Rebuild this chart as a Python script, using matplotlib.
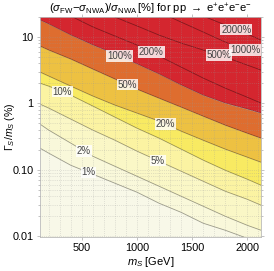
import numpy as np
import matplotlib
matplotlib.use("Agg")
import matplotlib.pyplot as plt

plt.rcParams['font.family'] = ['Liberation Sans', 'DejaVu Sans']
plt.rcParams['mathtext.fontset'] = 'custom'
plt.rcParams['mathtext.rm'] = 'Liberation Sans'
plt.rcParams['mathtext.it'] = 'Liberation Sans:italic'
plt.rcParams['mathtext.bf'] = 'Liberation Sans:bold'

m_s = [120, 200, 400, 600, 800, 1000, 1200, 1400, 1600, 1800, 2000, 2125]

# Gamma_S/m_S (%) of each contour line at the m_s points
line_1 = [0.212, 0.178, 0.117, 0.0859, 0.0628, 0.0460, 0.0314, 0.0229, 0.0157, 0.0123, 0.0093, 0.0076]
line_2 = [0.488, 0.396, 0.252, 0.160, 0.113, 0.0800, 0.0566, 0.0400, 0.0283, 0.0200, 0.0146, 0.0123]
line_5 = [0.976, 0.850, 0.580, 0.396, 0.279, 0.191, 0.135, 0.0953, 0.0673, 0.0476, 0.0360, 0.0293]
line_10 = [2.02, 1.82, 1.33, 0.911, 0.621, 0.424, 0.300, 0.205, 0.140, 0.0986, 0.0722, 0.0586]
line_20 = [2.97, 2.58, 1.82, 1.29, 0.943, 0.715, 0.541, 0.382, 0.279, 0.205, 0.155, 0.130]
line_50 = [7.32, 6.37, 4.66, 3.29, 2.33, 1.64, 1.20, 0.880, 0.643, 0.471, 0.356, 0.300]
line_100 = [18.0, 15.7, 10.7, 7.58, 5.54, 3.92, 2.77, 1.89, 1.33, 1.01, 0.821, 0.715]
line_200 = [33.7, 29.4, 20.7, 14.2, 10.35, 7.58, 5.17, 3.53, 2.41, 1.70, 1.24, 1.01]
line_500 = [205, 145, 72.4, 38.7, 20.0, 14.7, 10.7, 8.12, 6.37, 4.99, 3.78, 3.18]
line_1000 = [155, 135, 95.5, 67.6, 47.7, 33.7, 23.8, 16.8, 11.9, 8.41, 6.15, 5.17]
line_2000 = [271, 236, 167, 118, 83.2, 58.8, 41.5, 29.4, 20.7, 15.2, 11.1, 9.01]

levels = [1, 2, 5, 10, 20, 50, 100, 200, 500, 1000, 2000]
lines = [line_1, line_2, line_5, line_10, line_20, line_50, line_100,
         line_200, line_500, line_1000, line_2000]
# m_S where each level's label sits
label_m = [560, 520, 1190, 320, 1260, 910, 840, 1130, 1745, 1980, 1900]

band_colors = ['#F8F8E8', '#F9F8DA', '#FAF7C6', '#FBF3A2', '#F8EA62',
               '#EDC142', '#DE6D2F', '#D4262F']

fig = plt.figure(figsize=(2.74, 2.71), dpi=100)
ax = fig.add_axes([0.146, 0.125, 0.807, 0.812])
ax.set_yscale('log')
xlo, xhi = 120, 2125
ylo, yhi = 0.0097, 20

# filled bands between neighbouring contour lines
bounds = [[1e-4] * len(m_s)] + lines[:7] + [[1e4] * len(m_s)]
for i, c in enumerate(band_colors):
    ax.fill_between(m_s, bounds[i], bounds[i + 1], color=c, lw=0, zorder=1)

for ln in lines:
    ax.plot(m_s, ln, color='black', alpha=0.38, lw=0.6, zorder=2)

# grid on top of the fill
for xv in range(200, 2101, 100):
    ax.axvline(xv, color='#999999', lw=0.45, ls=(0, (1, 2)), alpha=0.6, zorder=3)
for dec in [0.01, 0.1, 1, 10]:
    for k in range(1, 10):
        yv = dec * k
        if ylo < yv < yhi:
            ax.axhline(yv, color='#999999', lw=0.45, ls=(0, (1, 2)), alpha=0.6, zorder=3)

for lev, ln, lx in zip(levels, lines, label_m):
    ly = 10 ** np.interp(lx, m_s, np.log10(ln))
    ax.text(lx, ly, f'{lev}%', fontsize=7, color='#444444', ha='center', va='center',
            zorder=5, bbox=dict(boxstyle='square,pad=0.08', fc='white', ec='none', alpha=0.82))

ax.set_xlim(xlo, xhi)
ax.set_ylim(ylo, yhi)
ax.set_xticks([500, 1000, 1500, 2000])
ax.set_yticks([0.01, 0.1, 1, 10])
ax.set_yticklabels(['0.01', '0.10', '1', '10'])
ax.tick_params(which='both', direction='out', color='#AAAAAA', labelsize=7.8,
               top=True, right=True, length=2.5, width=0.5, pad=2)
ax.tick_params(which='minor', length=1.5)
for sp in ax.spines.values():
    sp.set_color('#BBBBBB')
    sp.set_linewidth(0.6)

ax.set_xlabel(r'$m_S$ [GeV]', fontsize=8, labelpad=1)
ax.set_ylabel(r'$\Gamma_S/m_S$ (%)', fontsize=7.6)
ax.yaxis.set_label_coords(-0.105, 0.5)
ax.set_title(r'$(\sigma_{\rm FW}\!-\!\sigma_{\rm NWA})/\sigma_{\rm NWA}\,$[%] for pp $\rightarrow$ e$^{+}$e$^{+}$e$^{-}$e$^{-}$',
             fontsize=8, pad=3)

fig.savefig('out.png', dpi=100)
